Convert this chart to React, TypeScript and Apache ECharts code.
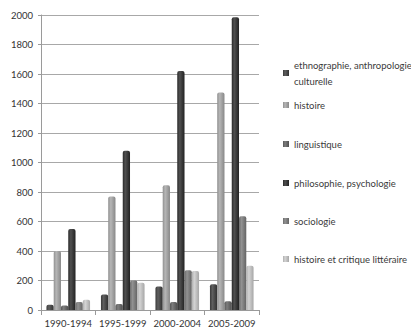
import React, { useEffect, useRef } from "react";
import * as echarts from "echarts";

const periods = ["1990-1994", "1995-1999", "2000-2004", "2005-2009"];
const ethnographie = [35, 105, 160, 175];
const histoire = [400, 770, 845, 1475];
const linguistique = [30, 40, 55, 60];
const philosophie = [550, 1080, 1620, 1985];
const sociologie = [55, 200, 270, 635];
const critique = [70, 185, 265, 300];
const yTicks = [0, 200, 400, 600, 800, 1000, 1200, 1400, 1600, 1800, 2000];

const seriesDefs = [
  { name: "ethnographie, anthropologie culturelle", label: "ethnographie, anthropologie\nculturelle", data: ethnographie, color: "#4d4d4d", top: 57 },
  { name: "histoire", label: "histoire", data: histoire, color: "#a4a4a4", top: 97 },
  { name: "linguistique", label: "linguistique", data: linguistique, color: "#6b6b6b", top: 136 },
  { name: "philosophie, psychologie", label: "philosophie, psychologie", data: philosophie, color: "#3e3e3e", top: 175 },
  { name: "sociologie", label: "sociologie", data: sociologie, color: "#808080", top: 213 },
  { name: "histoire et critique littéraire", label: "histoire et critique littéraire", data: critique, color: "#c2c2c2", top: 251 },
];

const FONT = "Lato";

function shade(hex: string, amt: number): string {
  const n = parseInt(hex.slice(1), 16);
  const f = (v: number) => Math.max(0, Math.min(255, Math.round(v + amt)));
  const r = f((n >> 16) & 255), g = f((n >> 8) & 255), b = f(n & 255);
  return "#" + ((r << 16) | (g << 8) | b).toString(16).padStart(6, "0");
}

export default function App() {
  const ref = useRef<HTMLDivElement>(null);
  useEffect(() => {
    if (!ref.current) return;
    const chart = echarts.init(ref.current, undefined, { renderer: "svg" });
    chart.setOption({
      animation: false,
      backgroundColor: "#ffffff",
      grid: { left: 41, right: 152, top: 15, bottom: 21, containLabel: false },
      legend: seriesDefs.map((s) => ({
        data: [s.name],
        left: 283,
        top: s.top,
        orient: "vertical",
        itemWidth: 6,
        itemHeight: 6,
        icon: "rect",
        padding: 0,
        formatter: () => s.label,
        textStyle: { fontFamily: FONT, fontSize: 9.5, color: "#3a3a3a", lineHeight: 16 },
      })),
      xAxis: {
        type: "category",
        data: periods,
        axisLine: { lineStyle: { color: "#9a9a9a" } },
        axisTick: { show: true, length: 5, lineStyle: { color: "#9a9a9a" } },
        axisLabel: { interval: 0, fontFamily: FONT, fontSize: 9.5, color: "#333333", margin: 8 },
      },
      yAxis: {
        type: "value",
        min: 0,
        max: 2000,
        interval: 200,
        axisLine: { show: true, lineStyle: { color: "#9a9a9a" } },
        axisTick: { show: true, length: 3, lineStyle: { color: "#9a9a9a" } },
        axisLabel: {
          fontFamily: FONT,
          fontSize: 9.5,
          color: "#333333",
          margin: 8,
          formatter: (v: number) => (yTicks.includes(v) ? String(v) : ""),
        },
        splitLine: { lineStyle: { color: "#a8a8a8", width: 1 } },
      },
      series: seriesDefs.map((s) => ({
        name: s.name,
        type: "bar",
        data: s.data,
        barCategoryGap: "20%",
        barGap: "0%",
        itemStyle: {
          color: new echarts.graphic.LinearGradient(0, 0, 1, 0, [
            { offset: 0, color: shade(s.color, -20) },
            { offset: 0.35, color: shade(s.color, 18) },
            { offset: 1, color: shade(s.color, -28) },
          ]),
          borderRadius: [2, 2, 0, 0],
        },
      })),
    });
    return () => chart.dispose();
  }, []);
  return (
    <div
      ref={ref}
      style={{ position: "absolute", left: 0, top: 0, width: 411, height: 331 }}
    />
  );
}
